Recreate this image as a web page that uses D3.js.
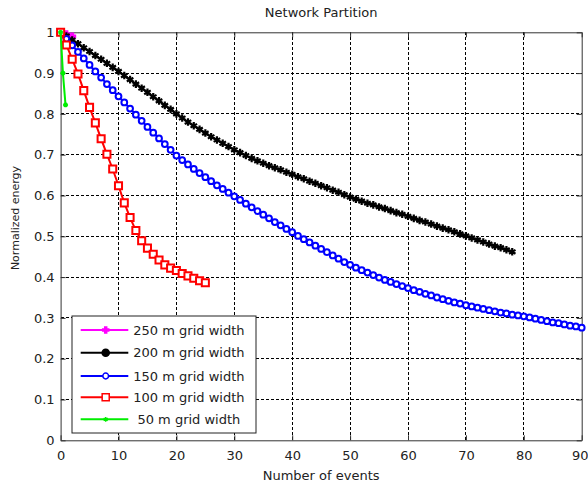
<!DOCTYPE html>
<html>
<head>
<meta charset="utf-8">
<script src="https://cdn.jsdelivr.net/npm/d3@7"></script>
<style>
  html, body { margin: 0; padding: 0; background: #fff; }
  svg text { font-family: "DejaVu Sans", sans-serif; fill: #222; }
</style>
</head>
<body>
<svg id="chart"></svg>
<script>
// values, one marker per event
const grid200 = [
  1.000, 0.991, 0.981, 0.972, 0.962, 0.953, 0.943, 0.934, 0.924, 0.914, 0.904,
  0.894, 0.884, 0.873, 0.863, 0.853, 0.842, 0.832, 0.821, 0.811, 0.800,
  0.790, 0.780, 0.771, 0.762, 0.753, 0.744, 0.736, 0.728, 0.720, 0.712,
  0.705, 0.698, 0.691, 0.685, 0.679, 0.673, 0.668, 0.663, 0.657, 0.652,
  0.646, 0.641, 0.635, 0.630, 0.624, 0.619, 0.613, 0.608, 0.602, 0.596,
  0.591, 0.586, 0.581, 0.577, 0.572, 0.568, 0.563, 0.558, 0.554, 0.549,
  0.544, 0.539, 0.535, 0.530, 0.525, 0.520, 0.516, 0.511, 0.506, 0.501,
  0.496, 0.491, 0.486, 0.481, 0.476, 0.472, 0.467, 0.462
];
const grid150 = [
  1.000, 0.984, 0.968, 0.952, 0.936, 0.920, 0.904, 0.889, 0.873, 0.858, 0.843,
  0.828, 0.813, 0.798, 0.783, 0.768, 0.754, 0.740, 0.726, 0.712, 0.698,
  0.687, 0.676, 0.665, 0.655, 0.645, 0.635, 0.625, 0.616, 0.607, 0.598,
  0.589, 0.580, 0.571, 0.562, 0.553, 0.544, 0.535, 0.527, 0.518, 0.510,
  0.501, 0.493, 0.485, 0.477, 0.469, 0.461, 0.453, 0.445, 0.437, 0.430,
  0.423, 0.417, 0.411, 0.405, 0.399, 0.393, 0.388, 0.383, 0.378, 0.373,
  0.368, 0.364, 0.359, 0.355, 0.350, 0.346, 0.342, 0.338, 0.335, 0.331,
  0.328, 0.325, 0.322, 0.319, 0.316, 0.313, 0.311, 0.308, 0.306, 0.304,
  0.301, 0.298, 0.295, 0.292, 0.289, 0.287, 0.284, 0.281, 0.279, 0.276
];
const grid100 = [
  1.000, 0.969, 0.934, 0.898, 0.857, 0.816, 0.778, 0.739, 0.701, 0.665,
  0.624, 0.582, 0.546, 0.514, 0.489, 0.471, 0.456, 0.442, 0.430, 0.422,
  0.416, 0.409, 0.403, 0.397, 0.391, 0.386
];
const grid250X = [0, 1, 2];
const grid250 = [1.000, 0.995, 0.990];
const grid50X = [0, 0.4, 0.85];
const grid50 = [1.000, 0.900, 0.822];

const xTicks = [0, 10, 20, 30, 40, 50, 60, 70, 80, 90];
const yTicks = [0, 0.1, 0.2, 0.3, 0.4, 0.5, 0.6, 0.7, 0.8, 0.9, 1];
const legendLabels = ["250 m grid width", "200 m grid width", "150 m grid width", "100 m grid width", " 50 m grid width"];

const width = 588, height = 486;
const margin = { top: 32.3, right: 6.3, bottom: 45.7, left: 60.6 };
const w = width - margin.left - margin.right;
const h = height - margin.top - margin.bottom;

const svg = d3.select("#chart").attr("width", width).attr("height", height);
const g = svg.append("g").attr("transform", `translate(${margin.left},${margin.top})`);

const x = d3.scaleLinear().domain([0, 90]).range([0, w]);
const y = d3.scaleLinear().domain([0, 1]).range([h, 0]);

// dashed grid
g.append("g").selectAll("line").data(xTicks.slice(1, -1)).join("line")
  .attr("x1", d => x(d)).attr("x2", d => x(d)).attr("y1", 0).attr("y2", h)
  .attr("stroke", "#000").attr("stroke-width", 1).attr("stroke-dasharray", "3,2")
  .attr("shape-rendering", "crispEdges");
g.append("g").selectAll("line").data(yTicks.slice(1, -1)).join("line")
  .attr("y1", d => y(d)).attr("y2", d => y(d)).attr("x1", 0).attr("x2", w)
  .attr("stroke", "#000").attr("stroke-width", 1).attr("stroke-dasharray", "3,2")
  .attr("shape-rendering", "crispEdges");

const fmt = d => d3.format("~g")(d);
const styleAxis = sel => {
  sel.select(".domain").attr("stroke", "#333");
  sel.selectAll(".tick line").attr("stroke", "#333");
  sel.selectAll("text").style("font-size", "13px").attr("fill", "#222");
};

g.append("g").attr("transform", `translate(0,${h})`)
  .call(d3.axisBottom(x).tickValues(xTicks).tickFormat(fmt).tickSize(-5).tickSizeOuter(0).tickPadding(10))
  .call(styleAxis)
  .call(a => a.selectAll(".tick text").filter(d => d === 90).attr("dx", "-2"));
g.append("g")
  .call(d3.axisLeft(y).tickValues(yTicks).tickFormat(fmt).tickSize(-5).tickSizeOuter(0).tickPadding(6))
  .call(styleAxis);
g.append("g")
  .call(d3.axisTop(x).tickValues(xTicks).tickFormat("").tickSize(-5).tickSizeOuter(0))
  .call(styleAxis);
g.append("g").attr("transform", `translate(${w},0)`)
  .call(d3.axisRight(y).tickValues(yTicks).tickFormat("").tickSize(-5).tickSizeOuter(0))
  .call(styleAxis);

const series = [
  { name: legendLabels[0], color: "#ff00ff", xs: grid250X, ys: grid250, symbol: d3.symbolCross, size: 20, fill: true, lw: 2 },
  { name: legendLabels[1], color: "#000000", xs: grid200.map((d, i) => i), ys: grid200, symbol: d3.symbolAsterisk, size: 40, fill: false, lw: 2.2 },
  { name: legendLabels[2], color: "#0000ff", xs: grid150.map((d, i) => i), ys: grid150, symbol: d3.symbolCircle, size: 26, fill: false, lw: 2 },
  { name: legendLabels[3], color: "#ff0000", xs: grid100.map((d, i) => i), ys: grid100, symbol: d3.symbolSquare, size: 50, fill: false, lw: 2 },
  { name: legendLabels[4], color: "#00ee00", xs: grid50X, ys: grid50, symbol: d3.symbolAsterisk, size: 16, fill: false, lw: 2 }
];

const line = d3.line().x(d => x(d[0])).y(d => y(d[1]));
series.forEach(s => {
  const pts = s.ys.map((v, i) => [s.xs[i], v]);
  const sg = g.append("g");
  sg.append("path").datum(pts).attr("d", line)
    .attr("fill", "none").attr("stroke", s.color).attr("stroke-width", s.lw);
  sg.selectAll("path.m").data(pts).join("path").attr("class", "m")
    .attr("transform", d => `translate(${x(d[0])},${y(d[1])})`)
    .attr("d", d3.symbol().type(s.symbol).size(s.size))
    .attr("fill", s.fill ? s.color : (s.symbol === d3.symbolAsterisk ? "none" : "#fff"))
    .attr("stroke", s.color).attr("stroke-width", s.symbol === d3.symbolAsterisk ? 2.2 : 2);
});

// legend
const lg = svg.append("g").attr("transform", "translate(72,316)");
lg.append("rect").attr("width", 184).attr("height", 117)
  .attr("fill", "#fff").attr("stroke", "#222").attr("stroke-width", 1);
const rowY = [14, 36.7, 60, 81.3, 103.3];
series.forEach((s, i) => {
  const r = lg.append("g").attr("transform", `translate(0,${rowY[i]})`);
  r.append("line").attr("x1", 8.7).attr("x2", 56.3).attr("stroke", s.color).attr("stroke-width", 2);
  r.append("path").attr("transform", "translate(33.7,0)")
    .attr("d", d3.symbol().type(s.symbol === d3.symbolAsterisk && i === 1 ? d3.symbolCircle : s.symbol).size(s.size))
    .attr("fill", s.fill || i === 1 ? s.color : (s.symbol === d3.symbolAsterisk ? "none" : "#fff"))
    .attr("stroke", s.color).attr("stroke-width", 1.5);
  r.append("text").attr("x", 61.3).attr("dy", "0.35em").style("font-size", "13px")
    .attr("xml:space", "preserve").style("white-space", "pre").text(s.name);
});

// titles
svg.append("text").attr("x", margin.left + w / 2).attr("y", 17).attr("text-anchor", "middle")
  .style("font-size", "13px").text("Network Partition");
svg.append("text").attr("x", margin.left + w / 2).attr("y", 480).attr("text-anchor", "middle")
  .style("font-size", "13px").text("Number of events");
svg.append("text").attr("transform", "translate(19,218) rotate(-90)").attr("text-anchor", "middle")
  .style("font-size", "11px").text("Normalized energy");
</script>
</body>
</html>
